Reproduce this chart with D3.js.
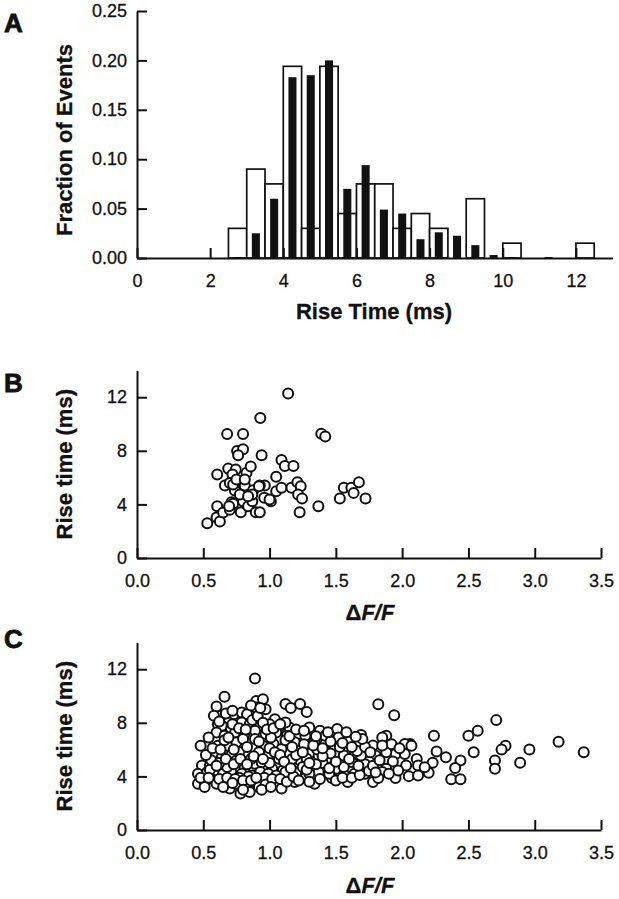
<!DOCTYPE html>
<html>
<head>
<meta charset="utf-8">
<script src="https://cdn.jsdelivr.net/npm/d3@7/dist/d3.min.js"></script>
<style>
  body { margin: 0; background: #fff; }
  svg { display: block; font-family: "Liberation Sans", Arial, Helvetica, sans-serif; }
</style>
</head>
<body>
<div class="main"></div>
<script>
// ---- data ----
// panel A: histogram, 0.5 ms bins (bin start)
var binStarts = [2.5, 3.0, 3.5, 4.0, 4.5, 5.0, 5.5, 6.0, 6.5, 7.0, 7.5, 8.0, 8.5, 9.0, 9.5, 10.0, 10.5, 11.0, 11.5, 12.0];
var openFrac  = [0.03, 0.09, 0.075, 0.194, 0.03, 0.194, 0.045, 0.075, 0.075, 0.03, 0.045, 0.03, 0, 0.06, 0, 0.015, 0, 0, 0, 0.015];
var filledFrac = [0.001, 0.025, 0.06, 0.183, 0.185, 0.2, 0.07, 0.094, 0.049, 0.045, 0.019, 0.026, 0.0225, 0.013, 0.003, 0.001, 0, 0.001, 0, 0];
var histXTicks = [0, 2, 4, 6, 8, 10, 12];
var histYTicks = [0, 0.05, 0.10, 0.15, 0.20, 0.25];

// panel B: dF/F vs rise time
var pointsB = [[0.53,2.6],[0.6,3.03],[0.625,2.73],[0.605,3.86],[0.65,3.4],[0.68,9.25],[0.8,9.25],[0.93,10.45],
  [1.14,12.28],[1.39,9.27],[1.42,9.07],[0.755,7.99],[0.8,8.12],[0.763,7.67],[0.94,7.67],[0.605,6.24],
  [0.688,6.67],[0.745,6.6],[0.72,6.24],[0.826,6.37],[0.858,6.82],[0.663,5.41],[0.7,5.6],[0.738,5.04],
  [0.813,5.41],[0.876,5.06],[0.964,5.41],[0.926,5.41],[0.713,4.16],[0.725,4.04],[0.783,3.41],[0.7,3.6],
  [0.8,4.23],[0.838,3.86],[0.87,4.23],[0.896,3.41],[0.926,3.41],[0.96,4.49],[1.01,4.23],[1.05,6.07],
  [1.09,7.32],[1.115,6.86],[1.18,6.86],[1.05,4.99],[1.09,5.24],[1.165,5.24],[1.21,5.66],[1.235,5.36],
  [1.215,4.74],[1.245,4.44],[1.227,3.41],[1.368,3.86],[1.53,4.44],[1.56,5.24],[1.617,5.24],[1.634,4.86],
  [1.674,5.66],[1.724,4.44],[0.776,4.74],[0.87,4.74],[0.725,5.49],[0.75,5.86],[0.813,5.86],[0.92,5.36],
  [1.0,4.36],[0.838,4.61],[0.695,3.86]];

// panel C: dF/F vs rise time (all events)
var pointsC = [
  [2.71,8.2],[2.78,6.29],[2.75,6.0],[2.96,6.0],[3.18,6.59],[3.37,5.8],[2.7,5.19],[2.7,4.57],[2.89,5.01],
  [1.94,8.57],[2.24,7.04],[2.57,7.41],[2.5,7.04],[2.54,5.8],[2.26,5.85],[2.33,5.43],[2.44,5.19],[2.4,4.62],
  [2.37,3.78],[2.44,3.78],[2.23,5.01],[2.2,4.27],[2.06,6.42],[2.02,6.42],[2.07,6.29],[2.11,5.3],[2.03,4.81],
  [1.95,5.68],[1.93,5.11],[2.12,4.81],[2.05,4.02],[2.12,4.07],[1.95,3.88],[1.88,7.04],[1.88,5.8],[2.02,5.68],
  [2.17,4.69],[1.88,4.57],[1.97,4.44],
  [1.82,9.38],[1.12,9.4],[1.16,9.1],[1.23,9.4],[1.28,8.8],
  [1.15,7.65],[1.22,7.16],[1.3,7.65],[1.38,7.41],[1.48,7.24],[1.51,7.53],[1.58,6.91],[1.69,7.09],[1.66,6.42],
  [1.78,6.3],[1.85,6.91],[1.8,5.56],[1.75,5.11],[1.22,6.05],[1.34,6.6],[1.42,6.42],[1.49,6.3],[1.57,5.8],
  [1.64,5.56],[1.15,4.81],[1.23,5.19],[1.32,5.8],[1.43,5.31],[1.51,4.57],[1.42,4.57],[1.33,4.81],[1.17,3.88],
  [1.27,3.88],[1.37,4.32],[1.47,3.88],[1.56,4.15],[1.64,4.2],[1.72,4.9],[1.78,3.58],[1.85,4.32],[1.14,5.8],
  [1.27,7.04],[1.42,7.04],[1.56,5.56],[1.69,5.56],[1.37,5.56],[1.52,6.91],[1.19,3.58],[1.34,3.46],[1.59,3.58],
  [1.72,4.2],[1.82,3.88],[1.19,6.54],[1.28,5.31],[1.62,5.07],
  [0.89,11.31],[0.66,9.95],[0.6,9.21],[0.9,9.63],[0.95,9.75],[0.9,9.14],[0.97,9.01],[0.63,8.52],[0.58,8.52],
  [0.61,7.9],[0.73,8.64],[0.79,8.77],[0.83,8.64],[1.04,8.27],[0.69,8.02],[0.64,7.78],[0.71,7.53],[0.79,8.02],
  [0.85,7.9],[0.93,7.78],[1.0,7.9],[1.07,7.65],[1.12,8.02],[0.6,7.28],[0.66,7.04],[0.74,7.28],[0.81,7.16],
  [0.89,7.41],[0.97,7.16],[1.05,7.28],[1.13,7.04],[0.54,6.91],[0.48,6.29],[0.61,6.29],[0.68,6.29],[0.75,6.54],
  [0.8,6.79],[0.89,6.79],[0.95,6.29],[1.03,6.42],[1.09,6.05],[0.58,5.68],[0.64,5.43],[0.71,5.56],[0.78,5.8],
  [0.84,5.56],[0.92,5.8],[0.99,5.56],[1.07,5.31],[0.49,4.81],[0.55,4.81],[0.63,4.69],[0.7,5.06],[0.75,5.19],
  [0.81,4.57],[0.89,4.94],[0.94,5.06],[1.02,4.57],[1.1,4.44],[0.46,4.2],[0.53,4.32],[0.59,4.07],[0.65,4.2],
  [0.71,4.32],[0.79,4.2],[0.87,4.07],[0.93,4.32],[0.99,4.2],[1.05,4.07],[1.12,4.32],[0.46,3.46],[0.51,3.58],
  [0.56,3.83],[0.6,3.46],[0.66,3.58],[0.7,3.09],[0.75,3.46],[0.78,2.72],[0.83,3.21],[0.88,3.58],[0.92,3.21],
  [0.99,3.58],[1.05,3.46],[1.09,3.09],[0.51,3.21],[0.85,2.84],
  [0.68,4.7],[0.77,3.9],[0.84,4.0],[0.96,3.9],[1.0,5.0],[0.86,5.3],[0.73,6.0],[0.83,6.2],[0.92,6.6],
  [1.01,6.9],[0.66,6.7],[0.56,5.2],[0.62,5.0],[1.2,4.3],[1.25,4.7],[1.3,4.2],[1.4,5.0],[1.46,5.7],
  [1.53,6.2],[1.6,6.6],[1.36,6.0],[1.26,6.4],[1.17,5.3],[1.12,6.7],
  [0.52,5.6],[0.57,6.1],[0.63,6.0],[0.69,6.9],[0.72,7.9],[0.77,7.6],[0.82,7.5],[0.87,8.2],[0.91,8.5],
  [0.95,8.0],[0.98,7.5],[1.03,7.6],[1.08,7.9],[0.62,8.1],[0.67,8.7],[0.72,8.9],[0.86,9.3],[0.93,9.1],
  [0.55,4.5],[0.6,4.8],[0.67,5.3],[0.73,4.9],[0.78,5.3],[0.83,4.9],[0.88,5.5],[0.95,5.3],[1.0,6.1],
  [1.04,5.8],[1.08,5.6],[1.11,5.1],[0.48,3.9],[0.54,3.9],[0.62,3.8],[0.68,3.9],[0.74,3.8],[0.8,3.7],
  [0.86,3.7],[0.9,3.9],[0.97,3.4],[1.02,3.8],[1.08,3.8],[1.13,3.6],[0.65,3.2],[0.72,3.5],[0.8,3.0],
  [0.94,3.0],[1.01,3.2],[1.18,4.0],[1.22,3.7],[1.3,3.6],[1.38,3.8],[1.45,4.2],[1.5,3.7],[1.55,3.9],
  [1.62,3.9],[1.68,4.1],[1.75,4.4],[1.16,4.6],[1.28,4.5],[1.35,4.9],[1.45,4.6],[1.56,4.7],[1.6,5.3],
  [1.67,4.8],[1.2,5.6],[1.3,5.0],[1.4,5.5],[1.5,5.1],[1.66,5.9],[1.72,6.2],[1.17,6.2],[1.25,5.8],
  [1.33,6.3],[1.4,6.1],[1.46,6.6],[1.55,6.5],[1.62,6.2],[1.7,6.8],[1.15,7.0],[1.2,7.5],[1.26,7.4],
  [1.35,7.0],[1.44,7.3],[1.58,7.3],[1.65,6.95],[1.78,4.8],[1.83,5.2],[1.9,4.2],[1.8,4.3],[1.92,6.4],
  [1.98,6.1],[1.76,5.8],[1.85,6.3]];

var scatterXTicks = [0, 0.5, 1.0, 1.5, 2.0, 2.5, 3.0, 3.5];
var scatterYTicks = [0, 4, 8, 12];

// ---- drawing ----
var svg = d3.select(".main")
  .append("svg")
    .attr("width", 619)
    .attr("height", 899);

svg.append("rect").attr("width", 619).attr("height", 899).style("fill", "#fff");

var ink = "#111";

function styleAxis(g) {
  g.select(".domain").style("stroke", ink).style("stroke-width", 2);
  g.selectAll(".tick line").style("stroke", ink).style("stroke-width", 2);
  g.selectAll(".tick text")
    .style("font-size", "18px")
    .style("fill", ink)
    .style("stroke", ink)
    .style("stroke-width", 0.3)
    .style("font-family", "'Liberation Sans', Arial, sans-serif");
}

function panelLetter(t, y) {
  svg.append("text")
    .attr("x", 4)
    .attr("y", y)
    .text(t)
    .style("font-size", "26px")
    .style("font-weight", "bold")
    .style("fill", ink)
    .style("stroke", ink)
    .style("stroke-width", 0.8);
}

function yTitle(t, cy) {
  svg.append("text")
    .attr("transform", "translate(72," + cy + ") rotate(-90)")
    .attr("text-anchor", "middle")
    .text(t)
    .style("font-size", "22px")
    .style("font-weight", "bold")
    .style("fill", ink)
    .style("stroke", ink)
    .style("stroke-width", 0.3);
}

function dffTitle(y) {
  var t = svg.append("text")
    .attr("x", 370)
    .attr("y", y)
    .attr("text-anchor", "middle")
    .style("font-size", "22px")
    .style("font-weight", "bold")
    .style("fill", ink)
    .style("stroke", ink)
    .style("stroke-width", 0.3);
  t.append("tspan").text("\u0394");
  t.append("tspan").text("F/F").style("font-style", "italic");
}

// Panel A
var xA = d3.scaleLinear().domain([0, 13]).range([137, 612.5]);
var yA = d3.scaleLinear().domain([0, 0.25]).range([258, 11]);
var openW = 0.5, filledW = 0.22;

var gA = svg.append("g");

gA.selectAll("rect.open")
  .data(binStarts.filter(function(d, i) { return openFrac[i] > 0; }))
  .enter()
  .append("rect")
    .attr("class", "open")
    .attr("x", function(d) { return xA(d); })
    .attr("width", function(d) { return xA(d + openW) - xA(d); })
    .attr("y", function(d) { return yA(openFrac[binStarts.indexOf(d)]); })
    .attr("height", function(d) { return yA(0) - yA(openFrac[binStarts.indexOf(d)]); })
    .style("fill", "#fff")
    .style("stroke", ink)
    .style("stroke-width", 1.7);

gA.selectAll("rect.filled")
  .data(binStarts)
  .enter()
  .append("rect")
    .attr("class", "filled")
    .attr("x", function(d) { return xA(d + openW / 2 - filledW / 2); })
    .attr("width", function(d) { return xA(d + filledW) - xA(d); })
    .attr("y", function(d, i) { return yA(filledFrac[i]); })
    .attr("height", function(d, i) { return yA(0) - yA(filledFrac[i]); })
    .style("fill", ink);

gA.append("g")
  .attr("transform", "translate(0,258)")
  .call(d3.axisBottom(xA).tickValues(histXTicks).tickSize(-10).tickSizeOuter(0).tickPadding(16).tickFormat(d3.format("d")))
  .call(styleAxis);

gA.append("g")
  .attr("transform", "translate(137,0)")
  .call(d3.axisLeft(yA).tickValues(histYTicks).tickSize(-10).tickSizeOuter(0).tickPadding(10).tickFormat(d3.format(".2f")))
  .call(styleAxis);

panelLetter("A", 32);
yTitle("Fraction of Events", 140);
svg.append("text")
  .attr("x", 374)
  .attr("y", 319)
  .attr("text-anchor", "middle")
  .text("Rise Time (ms)")
  .style("font-size", "22px")
  .style("font-weight", "bold")
  .style("fill", ink)
  .style("stroke", ink)
  .style("stroke-width", 0.3);

// Panels B and C
function scatterPanel(points, y0, letter, letterY, titleY) {
  var x = d3.scaleLinear().domain([0, 3.5]).range([137, 601]);
  var y = d3.scaleLinear().domain([0, 14]).range([y0, y0 - 14 * 13.4]);
  var g = svg.append("g");

  g.append("g")
    .attr("transform", "translate(0," + y0 + ")")
    .call(d3.axisBottom(x).tickValues(scatterXTicks).tickSize(-10).tickSizeOuter(0).tickPadding(16).tickFormat(d3.format(".1f")))
    .call(styleAxis);

  g.append("g")
    .attr("transform", "translate(137,0)")
    .call(d3.axisLeft(y).tickValues(scatterYTicks).tickSize(-10).tickSizeOuter(0).tickPadding(10))
    .call(styleAxis);

  g.selectAll("circle")
    .data(points)
    .enter()
    .append("circle")
      .attr("cx", function(d) { return x(d[0]); })
      .attr("cy", function(d) { return y(d[1]); })
      .attr("r", 5)
      .style("fill", "#fff")
      .style("stroke", ink)
      .style("stroke-width", 2);

  panelLetter(letter, letterY);
  yTitle("Rise time (ms)", y0 - 7 * 13.4);
  dffTitle(titleY);
}

scatterPanel(pointsB, 558, "B", 392, 620);
scatterPanel(pointsC, 830, "C", 648, 893);
</script>
</body>
</html>
